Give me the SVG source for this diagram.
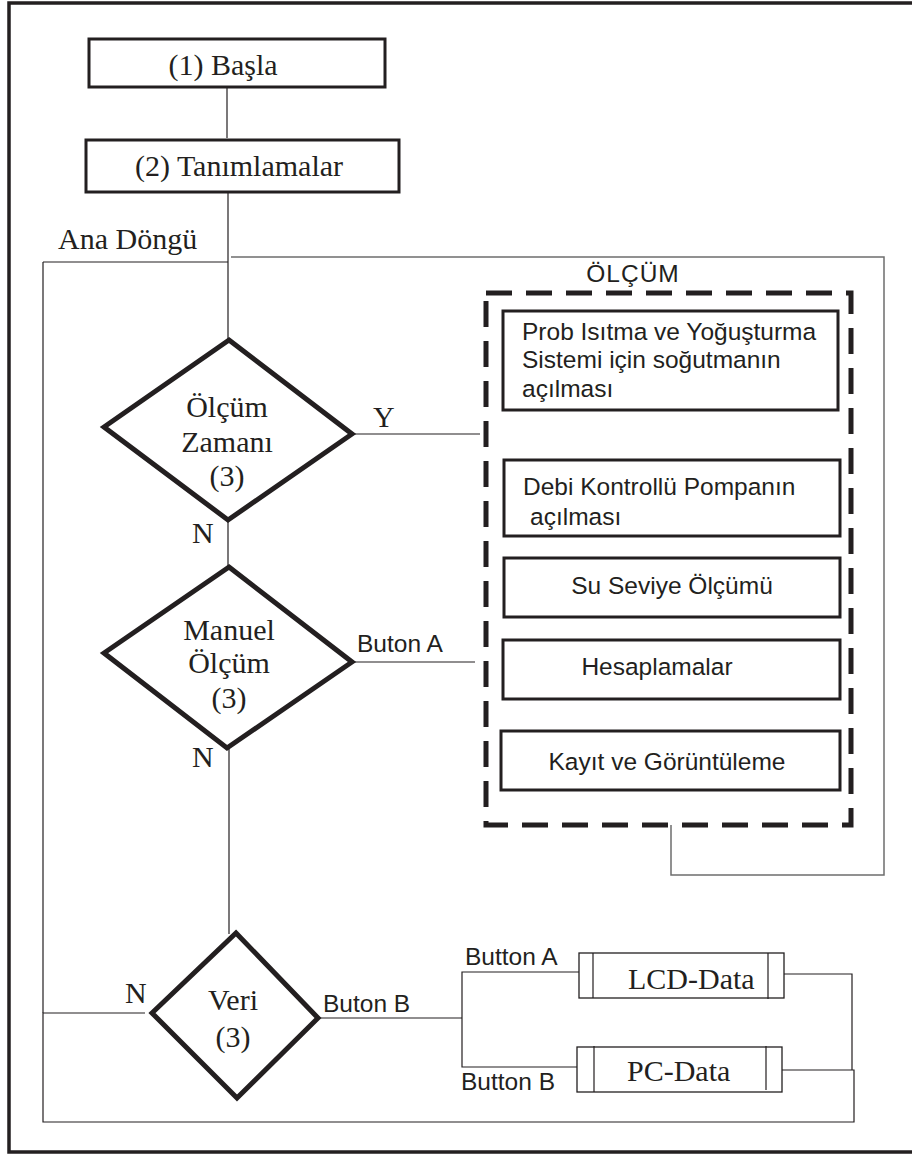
<svg xmlns="http://www.w3.org/2000/svg" width="912" height="1154" viewBox="0 0 912 1154">
<style>
.serif{font-family:"Liberation Serif","Times New Roman",serif;font-size:30px;fill:#231f20}
.sans{font-family:"Liberation Sans",Arial,sans-serif;font-size:24.5px;fill:#231f20}
.box{fill:#fff;stroke:#231f20;stroke-width:3}
.thinbox{fill:#fff;stroke:#231f20;stroke-width:1.3}
.dia{fill:#fff;stroke:#231f20;stroke-width:5;stroke-linejoin:miter}
.ln{fill:none;stroke:#231f20;stroke-width:1.2}
.gl{fill:none;stroke:#6d6d6d;stroke-width:1.5}
</style>
<rect width="912" height="1154" fill="#fff"/>
<path d="M912,3 H9 V1152 H912" fill="none" stroke="#231f20" stroke-width="3.5"/>

<g id="connectors">
  <path class="ln" d="M227,87 V138"/>
  <path class="ln" d="M228,193 V340"/>
  <path class="ln" d="M43,262 H228"/>
  <path class="gl" d="M231,257 H884 V875 H671 V825"/>
  <path class="ln" d="M352,434 H480"/>
  <path class="ln" d="M228,520 V567"/>
  <path class="ln" d="M352,662 H475"/>
  <path class="ln" d="M229,748 V934"/>
  <path class="ln" d="M145,1013 H43 V1122 H854 V1070 H782"/>
  <path class="ln" d="M43,262 V1013"/>
  <path class="ln" d="M318,1018 H462"/>
  <path class="ln" d="M579,972 H462 V1067 H578"/>
  <path class="ln" d="M784,974 H852 V1070"/>
</g>

<g id="n1">
  <rect class="box" x="89" y="39" width="296" height="48"/>
  <text class="serif" x="223" y="75" text-anchor="middle">(1) Başla</text>
</g>
<g id="n2">
  <rect class="box" x="86" y="140" width="313" height="52"/>
  <text class="serif" x="239" y="176" text-anchor="middle">(2) Tanımlamalar</text>
</g>
<text id="anadongu" class="serif" x="58" y="249">Ana Döngü</text>

<g id="d1">
  <polygon class="dia" points="229,340 352,434 228,520 104,427"/>
  <text class="serif" x="227" y="417" text-anchor="middle">Ölçüm</text>
  <text class="serif" x="227" y="452" text-anchor="middle">Zamanı</text>
  <text class="serif" x="227" y="486" text-anchor="middle">(3)</text>
</g>
<text class="serif" x="373" y="427">Y</text>
<text class="serif" x="192" y="543">N</text>

<g id="d2">
  <polygon class="dia" points="229,567 352,662 227,748 104,653"/>
  <text class="serif" x="229" y="640" text-anchor="middle">Manuel</text>
  <text class="serif" x="229" y="673" text-anchor="middle">Ölçüm</text>
  <text class="serif" x="229" y="708" text-anchor="middle">(3)</text>
</g>
<text class="sans" x="357" y="652" font-size="24">Buton A</text>
<text class="serif" x="192" y="767">N</text>

<g id="d3">
  <polygon class="dia" points="236,933 318,1018 237,1098 152,1013"/>
  <text class="serif" x="233" y="1010" text-anchor="middle">Veri</text>
  <text class="serif" x="233" y="1047" text-anchor="middle">(3)</text>
</g>
<text class="serif" x="125" y="1003">N</text>
<text class="sans" x="323" y="1012" font-size="24">Buton B</text>

<g id="olcum">
  <text class="sans" x="633" y="282" text-anchor="middle" font-size="22" letter-spacing="1">ÖLÇÜM</text>
  <rect x="486" y="293" width="365" height="532" fill="none" stroke="#231f20" stroke-width="5" stroke-dasharray="26 14"/>
</g>
<g id="s1">
  <rect class="box" x="503" y="311" width="335" height="99"/>
  <text class="sans" x="522" y="340">Prob Isıtma ve Yoğuşturma</text>
  <text class="sans" x="522" y="368">Sistemi için soğutmanın</text>
  <text class="sans" x="522" y="397">açılması</text>
</g>
<g id="s2">
  <rect class="box" x="504" y="460" width="336" height="76"/>
  <text class="sans" x="523" y="495">Debi Kontrollü Pompanın</text>
  <text class="sans" x="530" y="525">açılması</text>
</g>
<g id="s3">
  <rect class="box" x="504" y="558" width="336" height="59"/>
  <text class="sans" x="672" y="594" text-anchor="middle">Su Seviye Ölçümü</text>
</g>
<g id="s4">
  <rect class="box" x="503" y="640" width="337" height="59"/>
  <text class="sans" x="657" y="675" text-anchor="middle">Hesaplamalar</text>
</g>
<g id="s5">
  <rect class="box" x="501" y="731" width="339" height="59"/>
  <text class="sans" x="667" y="770" text-anchor="middle">Kayıt ve Görüntüleme</text>
</g>

<text class="sans" x="465" y="965" font-size="22">Button A</text>
<text class="sans" x="461" y="1090" font-size="22">Button B</text>

<g id="lcd">
  <rect class="thinbox" x="579" y="953" width="205" height="45"/>
  <path class="ln" d="M593,953 V998 M768,953 V999"/>
  <text class="serif" x="628" y="989">LCD-Data</text>
</g>
<g id="pc">
  <rect class="thinbox" x="577" y="1047" width="205" height="45"/>
  <path class="ln" d="M594,1046 V1092 M766,1046 V1090"/>
  <text class="serif" x="627" y="1081">PC-Data</text>
</g>
</svg>
